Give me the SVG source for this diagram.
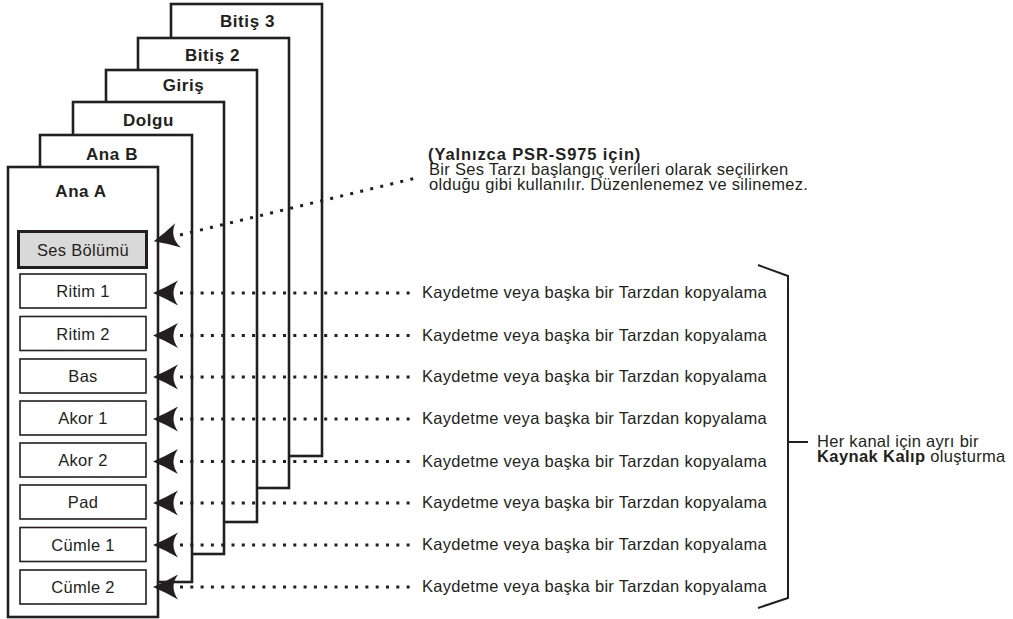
<svg xmlns="http://www.w3.org/2000/svg" width="1013" height="619" viewBox="0 0 1013 619">
<defs>
<style>
.panel{fill:#fff;stroke:#231f20;stroke-width:2.6}
.ptitle{font-family:"Liberation Sans",Arial,sans-serif;font-weight:bold;font-size:17px;letter-spacing:0.6px;fill:#231f20;text-anchor:middle}
.box{fill:#fff;stroke:#231f20;stroke-width:1.6}
.btxt{font-family:"Liberation Sans",Arial,sans-serif;font-size:16.5px;letter-spacing:0.3px;fill:#231f20;text-anchor:middle}
.lbl{font-family:"Liberation Sans",Arial,sans-serif;font-size:16.5px;letter-spacing:0.3px;fill:#231f20}
.bold{font-weight:bold;letter-spacing:0.9px}
.dots{fill:none;stroke:#231f20;stroke-width:3;stroke-dasharray:3 7.3;marker-start:url(#ah)}
.brk{fill:none;stroke:#231f20;stroke-width:2}
</style>
<marker id="ah" markerUnits="userSpaceOnUse" orient="auto" refX="27" refY="0" markerWidth="40" markerHeight="40" overflow="visible">
<path d="M0,0 Q12,-5 25,-12.5 Q16,0 25,12.5 Q12,5 0,0 Z" fill="#231f20"/>
</marker>
</defs>

<g id="panel-bitis3"><rect class="panel" x="171" y="4" width="151" height="452"/><text class="ptitle" x="247.5" y="27">Bitiş 3</text></g>
<g id="panel-bitis2"><rect class="panel" x="138" y="38" width="151" height="450"/><text class="ptitle" x="212.5" y="60.5">Bitiş 2</text></g>
<g id="panel-giris"><rect class="panel" x="106" y="70" width="151" height="452"/><text class="ptitle" x="183.5" y="91">Giriş</text></g>
<g id="panel-dolgu"><rect class="panel" x="73" y="102" width="151" height="452"/><text class="ptitle" x="148.5" y="126">Dolgu</text></g>
<g id="panel-anab"><rect class="panel" x="40" y="135" width="152" height="447"/><text class="ptitle" x="112" y="159.5">Ana B</text></g>
<g id="panel-anaa"><rect class="panel" x="8" y="167" width="150" height="450"/><text class="ptitle" x="81" y="197">Ana A</text></g>

<g id="ch-ses"><rect x="18.5" y="231.5" width="128" height="36" fill="#d9d9d9" stroke="#231f20" stroke-width="3"/><text class="btxt" x="83" y="255.5">Ses Bölümü</text></g>
<g id="ch-ritim1"><rect class="box" x="20" y="274" width="126" height="34"/><text class="btxt" x="83" y="297">Ritim 1</text></g>
<g id="ch-ritim2"><rect class="box" x="20" y="316.5" width="126" height="34"/><text class="btxt" x="83" y="339.5">Ritim 2</text></g>
<g id="ch-bas"><rect class="box" x="20" y="359" width="126" height="34"/><text class="btxt" x="83" y="382">Bas</text></g>
<g id="ch-akor1"><rect class="box" x="20" y="401" width="126" height="34"/><text class="btxt" x="83" y="424">Akor 1</text></g>
<g id="ch-akor2"><rect class="box" x="20" y="443" width="126" height="34"/><text class="btxt" x="83" y="466">Akor 2</text></g>
<g id="ch-pad"><rect class="box" x="20" y="485" width="126" height="34"/><text class="btxt" x="83" y="508">Pad</text></g>
<g id="ch-cumle1"><rect class="box" x="20" y="527.5" width="126" height="34"/><text class="btxt" x="83" y="550.5">Cümle 1</text></g>
<g id="ch-cumle2"><rect class="box" x="20" y="570" width="126" height="34"/><text class="btxt" x="83" y="593">Cümle 2</text></g>

<g id="connectors">
<path class="dots" d="M180,235 L416,178"/>
<path class="dots" d="M180,293 H416"/>
<path class="dots" d="M180,335.5 H416"/>
<path class="dots" d="M180,377 H416"/>
<path class="dots" d="M180,419 H416"/>
<path class="dots" d="M180,461.5 H416"/>
<path class="dots" d="M180,503 H416"/>
<path class="dots" d="M180,545 H416"/>
<path class="dots" d="M180,587 H416"/>
<path class="brk" d="M758,265 L788,276 V598 L758,608 M788,442 H808"/>
</g>

<g id="note-ses">
<text class="lbl bold" x="428" y="160">(Yalnızca PSR-S975 için)</text>
<text class="lbl" x="429" y="175">Bir Ses Tarzı başlangıç verileri olarak seçilirken</text>
<text class="lbl" x="429" y="190">olduğu gibi kullanılır. Düzenlenemez ve silinemez.</text>
</g>
<g id="labels">
<text class="lbl" x="422" y="298">Kaydetme veya başka bir Tarzdan kopyalama</text>
<text class="lbl" x="422" y="340.5">Kaydetme veya başka bir Tarzdan kopyalama</text>
<text class="lbl" x="422" y="382">Kaydetme veya başka bir Tarzdan kopyalama</text>
<text class="lbl" x="422" y="424">Kaydetme veya başka bir Tarzdan kopyalama</text>
<text class="lbl" x="422" y="466.5">Kaydetme veya başka bir Tarzdan kopyalama</text>
<text class="lbl" x="422" y="508">Kaydetme veya başka bir Tarzdan kopyalama</text>
<text class="lbl" x="422" y="550">Kaydetme veya başka bir Tarzdan kopyalama</text>
<text class="lbl" x="422" y="592">Kaydetme veya başka bir Tarzdan kopyalama</text>
</g>
<g id="note-bracket">
<text class="lbl" x="817" y="447">Her kanal için ayrı bir</text>
<text class="lbl" x="817" y="462"><tspan font-weight="bold" letter-spacing="0.4px">Kaynak Kalıp</tspan> oluşturma</text>
</g>
</svg>
